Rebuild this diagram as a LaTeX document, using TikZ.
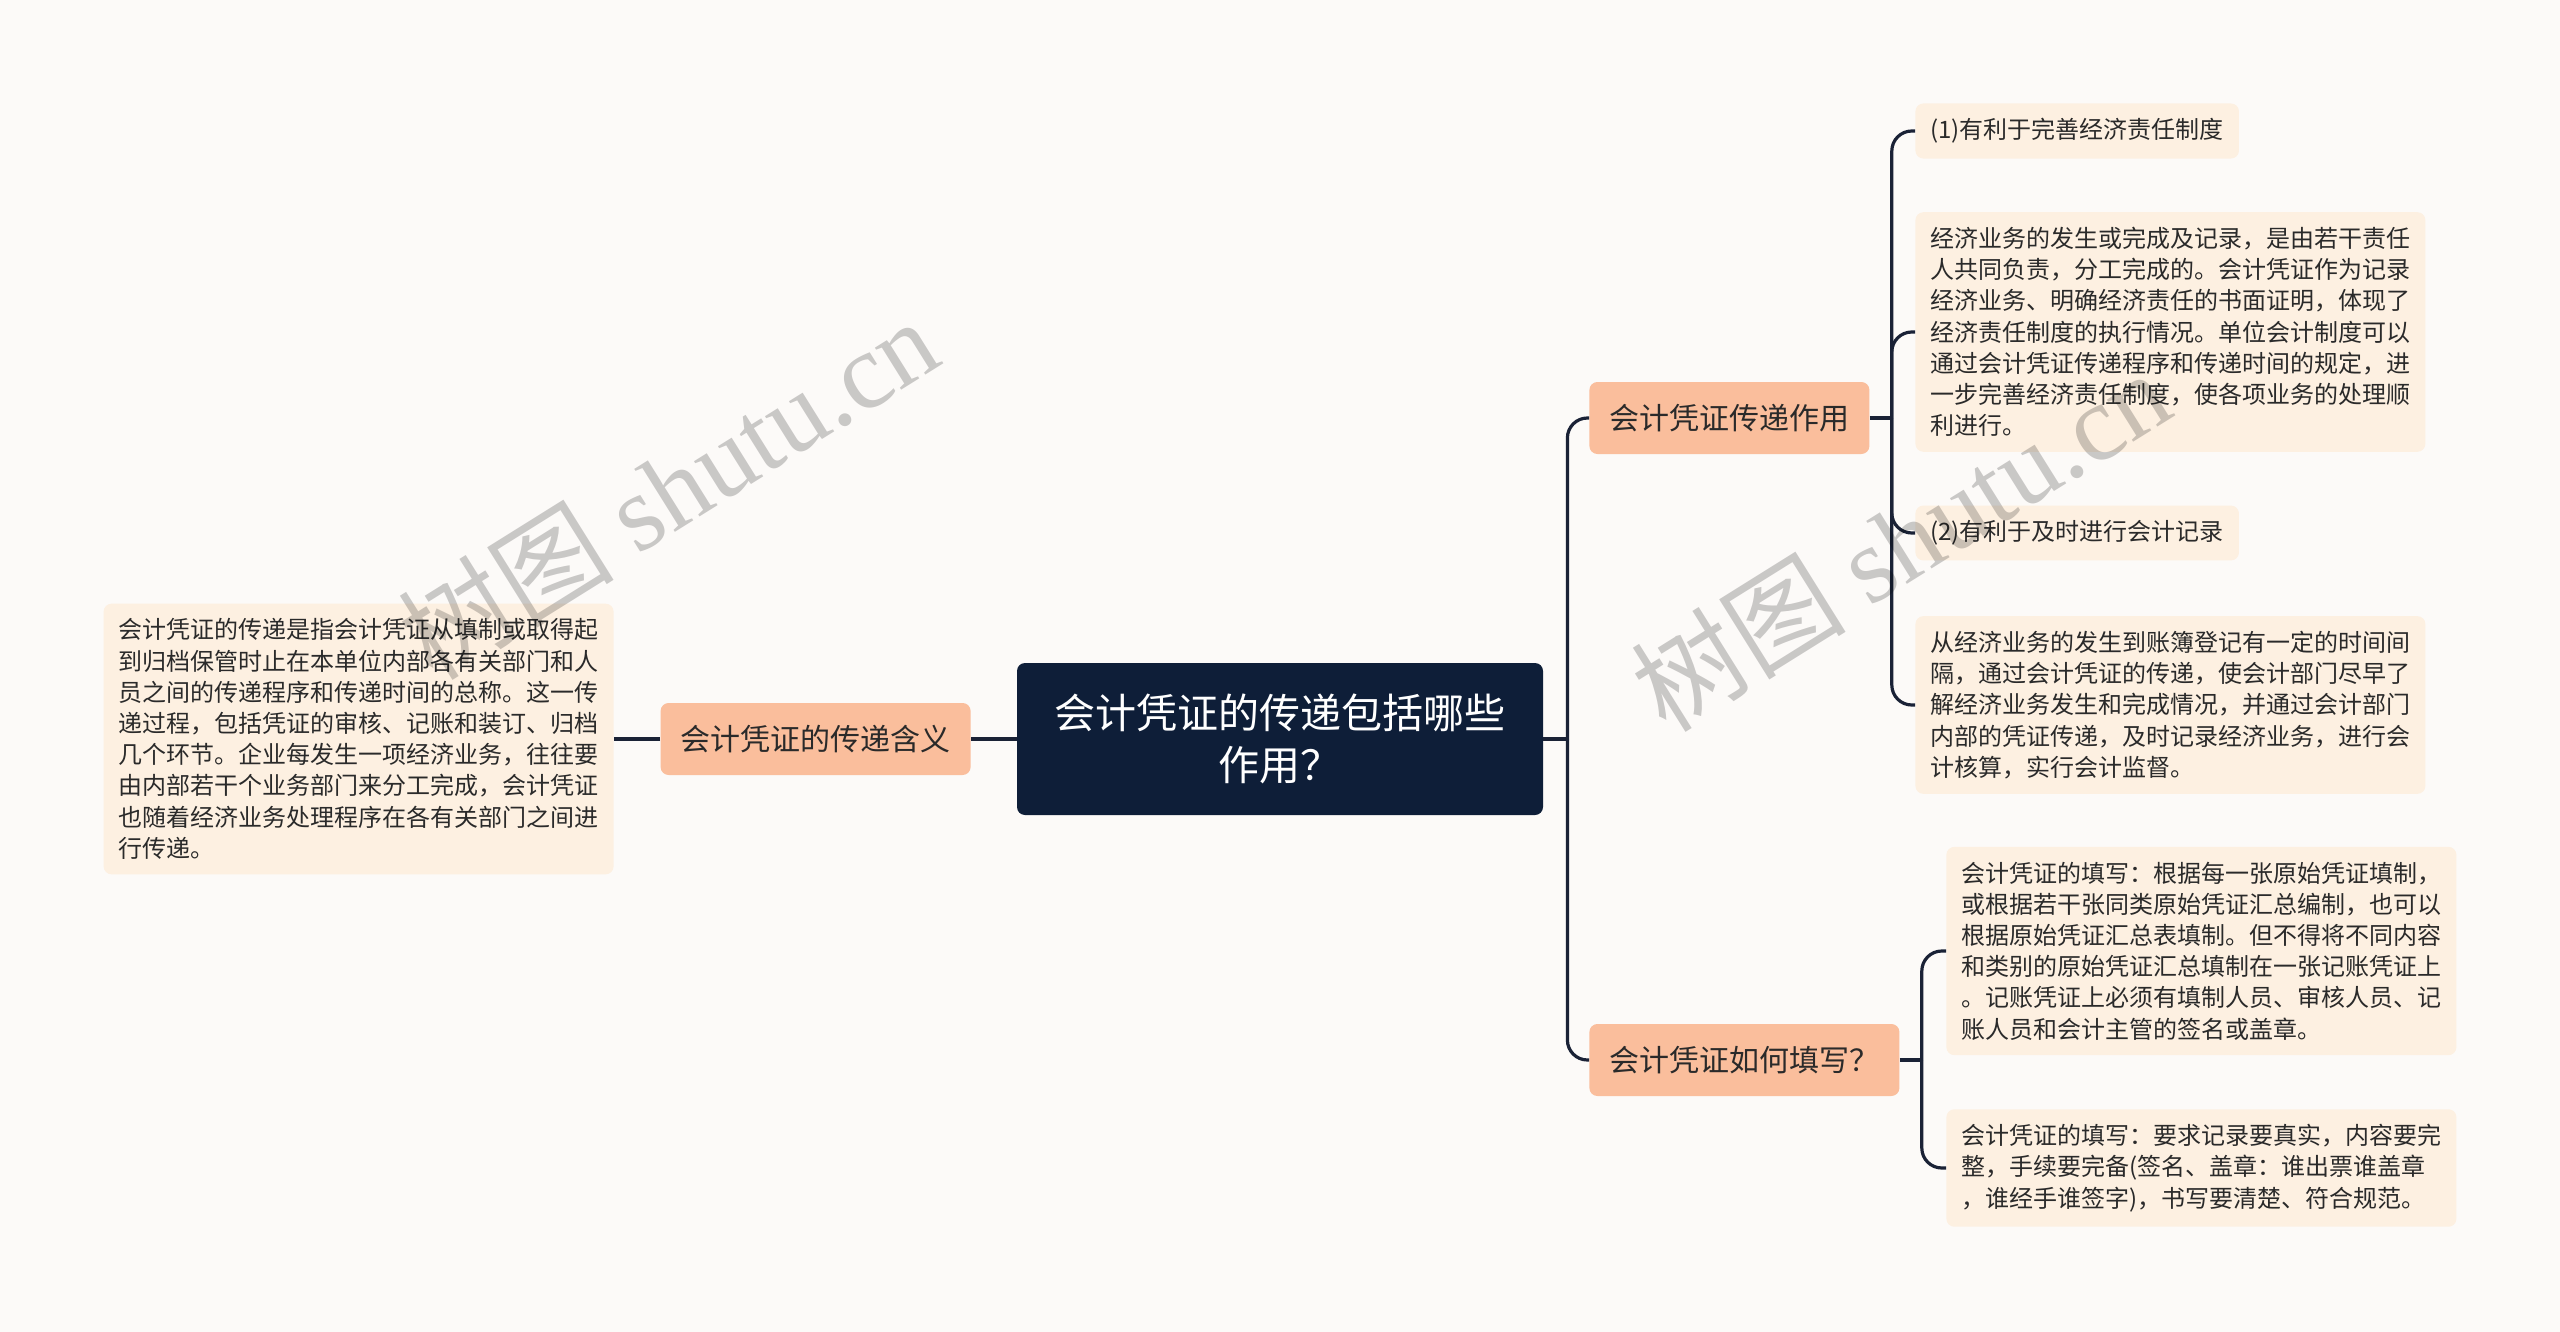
\documentclass[tikz,border=0pt]{standalone}
\usepackage{fontspec}
\setmainfont{Noto Sans CJK SC}
\newfontfamily\wmlatin{Liberation Serif}
\usetikzlibrary{positioning}
\definecolor{bgcol}{HTML}{FCFAF8}
\definecolor{rootcol}{HTML}{0E1E38}
\definecolor{branchcol}{HTML}{FABE9C}
\definecolor{leafcol}{HTML}{FDF0E1}
\definecolor{linkcol}{HTML}{1A2236}
\definecolor{txtcol}{HTML}{2A2A2A}

\begin{document}
\begin{tikzpicture}[
    x=0.5pt, y=-0.5pt,
    rootbox/.style={fill=rootcol, text=white, rounded corners=4pt, align=center, inner sep=0pt, minimum width=263pt, minimum height=76pt, font=\fontsize{20.5pt}{26pt}\selectfont},
    branchbox/.style={fill=branchcol, text=txtcol, rounded corners=4pt, inner xsep=10pt, inner ysep=0pt, minimum height=36pt, font=\fontsize{15pt}{18pt}\selectfont},
    leafbox/.style={fill=leafcol, text=txtcol, rounded corners=4pt, align=left, inner xsep=7.5pt, inner ysep=7.5pt, font=\fontsize{12pt}{15.6pt}\selectfont},
    link/.style={draw=linkcol, line width=1.6pt, rounded corners=10pt},
    wmark/.style={text=black, opacity=0.2, rotate=32, font=\fontsize{54pt}{54pt}\selectfont}
]
\path[use as bounding box, fill=bgcol] (0,0) rectangle (2560,1332);

\node[rootbox] (root) at (1280,739) {会计凭证的传递包括哪些\\作用？};

\node[branchbox, anchor=east] (mean) at (971,739) {会计凭证的传递含义};
\node[leafbox, anchor=east] (meantxt) at (614,739) {会计凭证的传递是指会计凭证从填制或取得起\\到归档保管时止在本单位内部各有关部门和人\\员之间的传递程序和传递时间的总称。这一传\\递过程，包括凭证的审核、记账和装订、归档\\几个环节。企业每发生一项经济业务，往往要\\由内部若干个业务部门来分工完成，会计凭证\\也随着经济业务处理程序在各有关部门之间进\\行传递。};

\node[branchbox, anchor=west] (use) at (1589,418) {会计凭证传递作用};
\node[leafbox, anchor=west] (use1) at (1915,131) {(1)有利于完善经济责任制度};
\node[leafbox, anchor=west] (use2) at (1915,332) {经济业务的发生或完成及记录，是由若干责任\\人共同负责，分工完成的。会计凭证作为记录\\经济业务、明确经济责任的书面证明，体现了\\经济责任制度的执行情况。单位会计制度可以\\通过会计凭证传递程序和传递时间的规定，进\\一步完善经济责任制度，使各项业务的处理顺\\利进行。};
\node[leafbox, anchor=west] (use3) at (1915,533) {(2)有利于及时进行会计记录};
\node[leafbox, anchor=west] (use4) at (1915,705) {从经济业务的发生到账簿登记有一定的时间间\\隔，通过会计凭证的传递，使会计部门尽早了\\解经济业务发生和完成情况，并通过会计部门\\内部的凭证传递，及时记录经济业务，进行会\\计核算，实行会计监督。};

\node[branchbox, anchor=west] (howto) at (1589,1060) {会计凭证如何填写？};
\node[leafbox, anchor=west] (howto1) at (1946,951) {会计凭证的填写：根据每一张原始凭证填制，\\或根据若干张同类原始凭证汇总编制，也可以\\根据原始凭证汇总表填制。但不得将不同内容\\和类别的原始凭证汇总填制在一张记账凭证上\\。记账凭证上必须有填制人员、审核人员、记\\账人员和会计主管的签名或盖章。};
\node[leafbox, anchor=west] (howto2) at (1946,1168) {会计凭证的填写：要求记录要真实，内容要完\\整，手续要完备(签名、盖章：谁出票谁盖章\\，谁经手谁签字)，书写要清楚、符合规范。};

\draw[link] (root.west) -- (mean.east);
\draw[link] (mean.west) -- (meantxt.east);
\draw[link] (root.east) -- ++(24,0) coordinate (rj);
\draw[link] (rj) |- (use.west);
\draw[link] (rj) |- (howto.west);
\draw[link] (use.east) -- ++(22,0) coordinate (uj);
\foreach \n in {use1,use2,use3,use4}
    \draw[link] (uj) |- (\n.west);
\draw[link] (howto.east) -- ++(22,0) coordinate (hj);
\foreach \n in {howto1,howto2}
    \draw[link] (hj) |- (\n.west);

\node[wmark] (wm1) at (668,488) {树图 {\wmlatin shutu.cn}};
\node[wmark] (wm2) at (1900,540) {树图 {\wmlatin shutu.cn}};
\end{tikzpicture}
\end{document}
